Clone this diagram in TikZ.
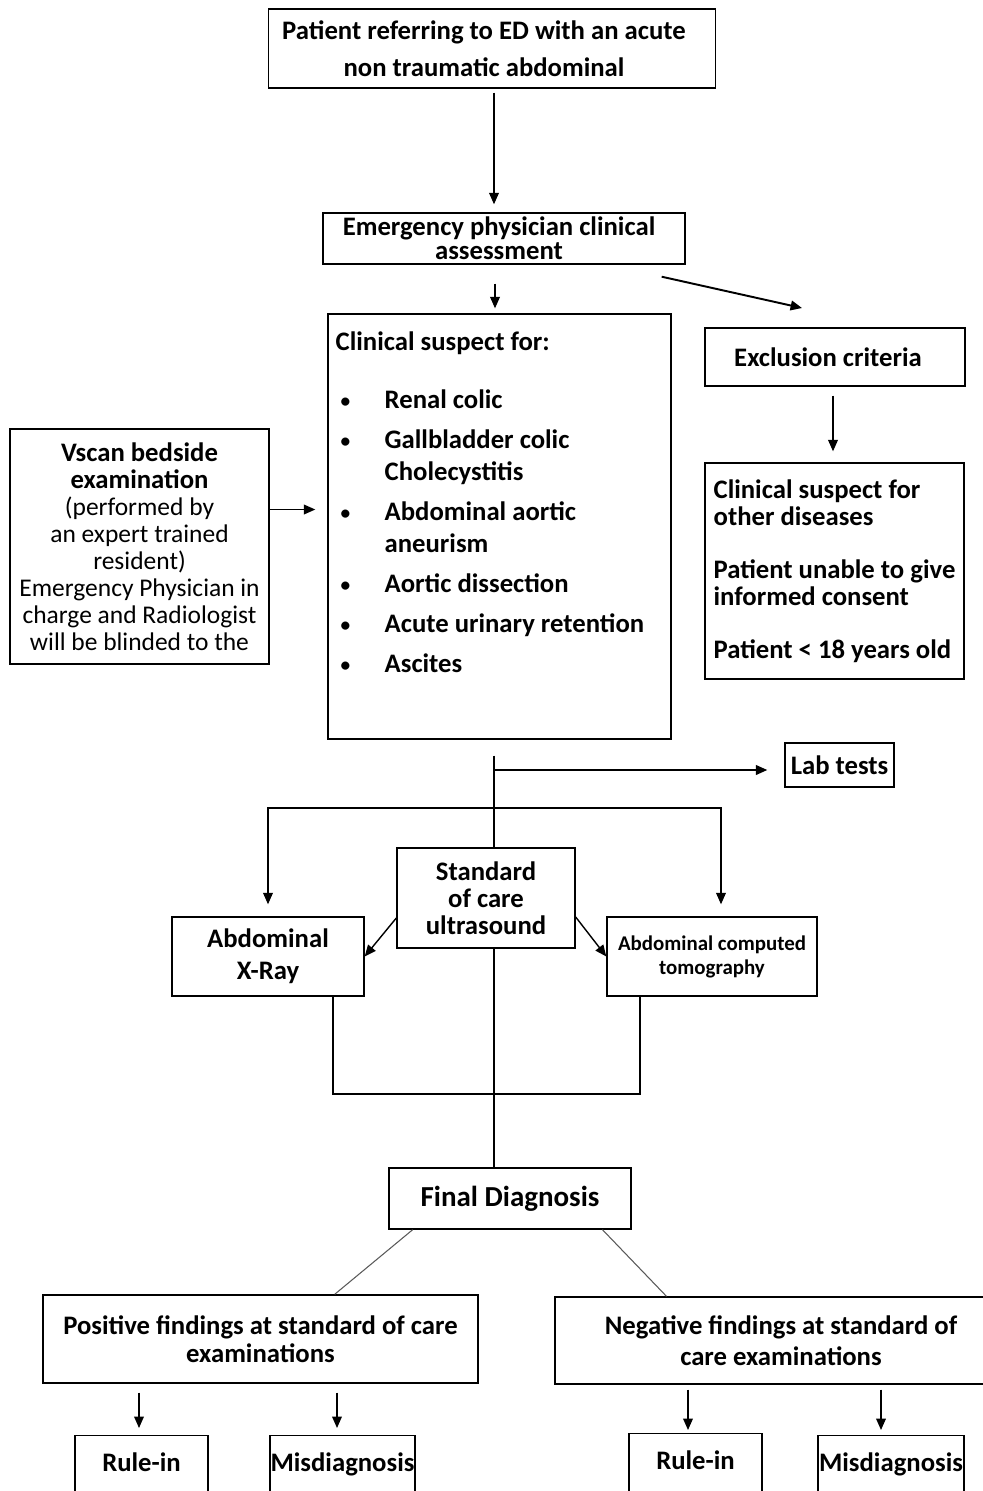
\documentclass[tikz,border=0pt]{standalone}
\usepackage{fontspec}
\setmainfont{Carlito}
\usetikzlibrary{arrows.meta,calc}
\newcommand{\listdot}{\makebox[0.98cm][l]{\hspace{0.1cm}\raisebox{0.6pt}{\fontsize{11}{0}\selectfont\textbullet}}}

\begin{document}
\begin{tikzpicture}[x=0.02cm, y=-0.02cm, >={Triangle[length=6.5pt,width=5.5pt]},
  box/.style={draw, line width=0.8pt, align=center, inner sep=0pt,
    font=\bfseries\fontsize{15.2}{21}\selectfont},
  leaf/.style={box, anchor=north, text height=0.72cm, text depth=1.5cm},
  link/.style={line width=0.8pt},
  split/.style={line width=0.6pt, gray!70!black}]
\useasboundingbox (0,0) rectangle (983,1491);
\clip (0,0) rectangle (983,1491);
\node (patient) at (492,48.5) [box, minimum width=8.94cm, minimum height=1.58cm] {Patient referring to ED with an acute\hspace*{0.32cm}\\non traumatic abdominal\hspace*{0.32cm}};
\node (assess) at (504,238.5) [box, minimum width=7.24cm, minimum height=1.02cm, font=\bfseries\fontsize{15.2}{13.7}\selectfont] {Emergency physician clinical\hspace*{0.2cm}\\assessment\hspace*{0.2cm}};
\node (suspect) at (499.5,526.5) [box, minimum width=6.86cm, minimum height=8.5cm] {};
\node (suspectlist) at ($(suspect.north west)+(8,18)$) [anchor=north west, align=left, inner sep=0pt, font=\bfseries\fontsize{15.2}{18.2}\selectfont]
  {Clinical suspect for:\\[14.8pt]
   \listdot Renal colic\\[4.6pt]
   \listdot Gallbladder colic\\
   \hspace*{0.98cm}Cholecystitis\\[4.6pt]
   \listdot Abdominal aortic\\
   \hspace*{0.98cm}aneurism\\[4.6pt]
   \listdot Aortic dissection\\[4.6pt]
   \listdot Acute urinary retention\\[4.6pt]
   \listdot Ascites};
\node (exclusion) at (835,357) [box, minimum width=5.2cm, minimum height=1.16cm] {Exclusion criteria\hspace*{0.28cm}};
\node (other) at (834.5,571) [box, minimum width=5.18cm, minimum height=4.32cm, align=left, font=\bfseries\fontsize{15.2}{15.4}\selectfont]
  {Clinical suspect for\\other diseases\\[14.8pt]Patient unable to give\\informed consent\\[14.8pt]Patient < 18 years old};
\node (vscan) at (139.5,546.5) [box, minimum width=5.18cm, minimum height=4.7cm, font=\fontsize{14.5}{15.4}\selectfont]
  {\textbf{\fontsize{15.2}{15.4}\selectfont Vscan bedside}\\\textbf{\fontsize{15.2}{15.4}\selectfont examination}\\(performed by\\an expert trained\\resident)\\Emergency Physician in\\charge and Radiologist\\will be blinded to the};
\node (lab) at (839.5,765) [box, minimum width=2.18cm, minimum height=0.88cm] {Lab tests};
\node (soc) at (486,898) [box, minimum width=3.56cm, minimum height=2cm, font=\bfseries\fontsize{15.2}{15.4}\selectfont] {Standard\\of care\\ultrasound};
\node (xray) at (268,956.5) [box, minimum width=3.84cm, minimum height=1.58cm, font=\bfseries\fontsize{15.2}{18.2}\selectfont] {Abdominal\\X-Ray};
\node (ct) at (712,956.5) [box, minimum width=4.2cm, minimum height=1.58cm, font=\bfseries\fontsize{11.9}{13.7}\selectfont] {Abdominal computed\\tomography};
\node (final) at (510,1198.5) [box, minimum width=4.84cm, minimum height=1.22cm, font=\bfseries\fontsize{16.5}{20}\selectfont] {Final Diagnosis};
\node (positive) at (260.5,1339) [box, minimum width=8.7cm, minimum height=1.76cm, font=\bfseries\fontsize{15.2}{16}\selectfont] {Positive findings at standard of care\\examinations};
\node (negative) at (770,1340.5) [box, minimum width=8.6cm, minimum height=1.74cm, font=\bfseries\fontsize{15.2}{17.6}\selectfont] {\hspace*{0.44cm}Negative findings at standard of\\\hspace*{0.44cm}care examinations};
\node (rulepos) at (141.5,1435) [leaf, minimum width=2.66cm] {Rule-in};
\node (mispos) at (342.5,1435) [leaf, minimum width=2.9cm] {Misdiagnosis};
\node (ruleneg) at (695.5,1433) [leaf, minimum width=2.66cm] {Rule-in};
\node (misneg) at (891,1435) [leaf, minimum width=2.92cm] {Misdiagnosis};
\coordinate (stem) at (494,770);
\coordinate (bar) at (721,808);
\coordinate (loopl) at (333,1094);
\coordinate (loopr) at (640,1094);
\coordinate (exclin) at (802,308);
\draw [link,->, shorten <=0.08cm, shorten >=0.16cm] ([xshift=0.04cm]patient.south) -- ([xshift=0.04cm]patient.south |- assess.north);
\draw [link,->, shorten <=0.38cm, shorten >=0.1cm] ([xshift=-0.18cm]assess.south) -- ([xshift=-0.18cm]assess.south |- suspect.north);
\draw [line width=1.1pt,->] ([xshift=-0.48cm, yshift=-0.24cm]assess.south east) -- (exclin);
\draw [link,->, shorten <=0.18cm, shorten >=0.22cm] ([xshift=-0.04cm]exclusion.south) -- ([xshift=-0.04cm]exclusion.south |- other.north);
\draw [link,->, shorten >=0.24cm] ([yshift=0.74cm]vscan.east) -- ([yshift=0.74cm]vscan.east -| suspect.west);
\draw [link, shorten <=0.32cm] (stem |- suspect.south) -- (stem |- soc.north);
\draw [line width=1.1pt,->, shorten >=0.34cm] (stem) -- (stem -| lab.west);
\draw [link,<->, shorten <=0.24cm, shorten >=0.24cm] (xray.north) |- (bar) -- (bar |- ct.north);
\draw [link,->] ([yshift=-0.4cm]soc.west) -- (xray.east);
\draw [link,->] ([yshift=-0.38cm]soc.east) -- (ct.west);
\draw [link] (stem |- soc.south) -- (stem |- final.north);
\draw [link] (loopl |- xray.south) -- (loopl) -- (loopr) -- (loopr |- ct.south);
\draw [split] ($(final.south west)!0.1!(final.south east)$) -- ($(positive.north west)!0.67!(positive.north east)$);
\draw [split] ($(final.south west)!0.88!(final.south east)$) -- ($(negative.north west)!0.26!(negative.north east)$);
\draw [link,->, shorten <=0.18cm, shorten >=0.14cm] ([xshift=-0.05cm]rulepos.north |- positive.south) -- ([xshift=-0.05cm]rulepos.north);
\draw [link,->, shorten <=0.18cm, shorten >=0.14cm] ([xshift=-0.11cm]mispos.north |- positive.south) -- ([xshift=-0.11cm]mispos.north);
\draw [link,->, shorten <=0.1cm, shorten >=0.06cm] ([xshift=-0.15cm]ruleneg.north |- negative.south) -- ([xshift=-0.15cm]ruleneg.north);
\draw [link,->, shorten <=0.1cm, shorten >=0.1cm] ([xshift=-0.2cm]misneg.north |- negative.south) -- ([xshift=-0.2cm]misneg.north);
\end{tikzpicture}
\end{document}
